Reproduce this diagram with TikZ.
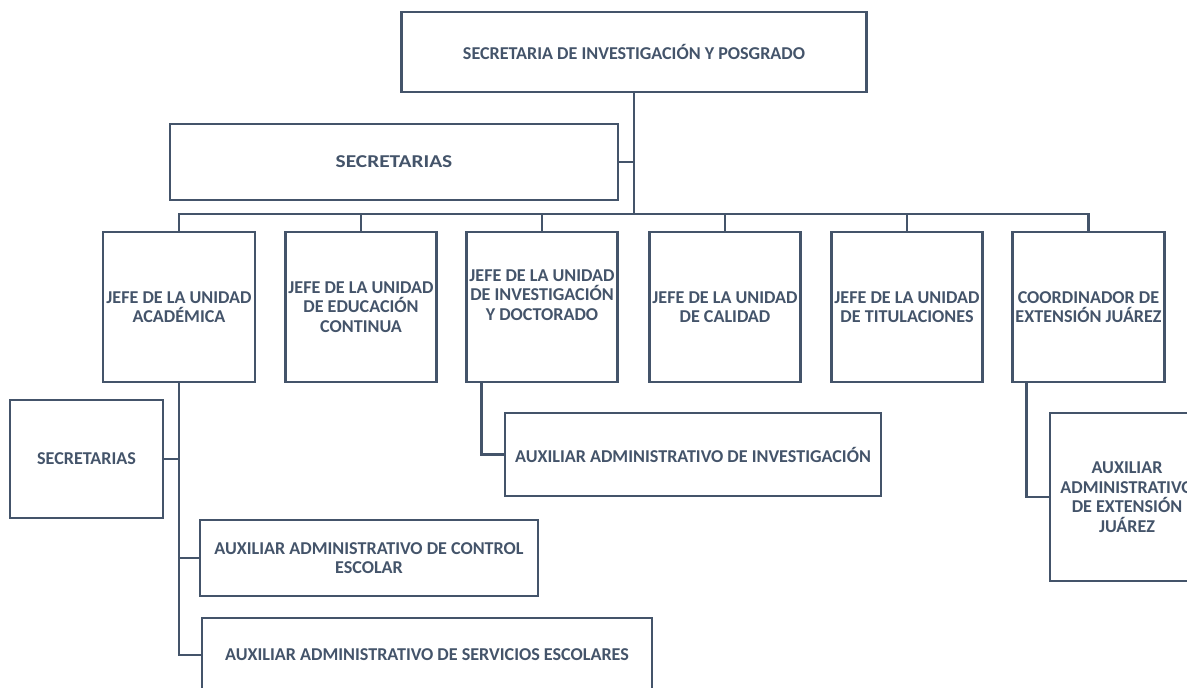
\documentclass[tikz,border=0pt]{standalone}
\usepackage{fontspec}
\setmainfont{Carlito}
\definecolor{ink}{HTML}{44546A}
\begin{document}
\begin{tikzpicture}[x=1pt,y=-1pt,
  box/.style={draw=ink, line width=2.2pt, rectangle, inner sep=1pt, align=center,
    text=ink, font=\fontsize{18.1}{19.5}\selectfont\bfseries},
  link/.style={draw=ink, line width=2.2pt}]
\useasboundingbox (0,0) rectangle (1187,688);
\clip (0,0) rectangle (1187,688);
% top level
\node[box, minimum width=465, minimum height=80] (T) at (634,52) {SECRETARIA DE INVESTIGACIÓN Y POSGRADO};
\node[box, minimum width=448, minimum height=76] (S1) at (394,162) {\scalebox{1.18}[1]{SECRETARIAS}};
\coordinate (bus) at (634,214);
% second level
\node[box, minimum width=152, minimum height=150] (J1) at (179,307) {JEFE DE LA UNIDAD\\ACADÉMICA};
\node[box, minimum width=151, minimum height=150] (J2) at (361,307) {JEFE DE LA UNIDAD\\DE EDUCACIÓN\\CONTINUA};
\node[box, minimum width=151, minimum height=150] (J3) at (542,307) {JEFE DE LA UNIDAD\\DE INVESTIGACIÓN\\Y DOCTORADO\\[5pt]\mbox{}};
\node[box, minimum width=151, minimum height=150] (J4) at (725,307) {JEFE DE LA UNIDAD\\DE CALIDAD};
\node[box, minimum width=151, minimum height=150] (J5) at (907,307) {JEFE DE LA UNIDAD\\DE TITULACIONES};
\node[box, minimum width=152, minimum height=150] (J6) at (1088.5,307) {COORDINADOR DE\\EXTENSIÓN JUÁREZ};
% third level
\node[box, minimum width=153, minimum height=118] (S2) at (86.5,459) {SECRETARIAS};
\node[box, minimum width=338, minimum height=76] (A1) at (369,558) {AUXILIAR ADMINISTRATIVO DE CONTROL\\ESCOLAR};
\node[box, minimum width=450, minimum height=74] (A2) at (427,655) {AUXILIAR ADMINISTRATIVO DE SERVICIOS ESCOLARES};
\node[box, minimum width=376, minimum height=83] (AI) at (693,454.5) {AUXILIAR ADMINISTRATIVO DE INVESTIGACIÓN};
\node[box, minimum width=154, minimum height=168] (AE) at (1127,497) {AUXILIAR\\ADMINISTRATIVO\\DE EXTENSIÓN\\JUÁREZ};
% connectors
\draw[link] (T.south) -- (bus);
\draw[link] (S1.east) -- (S1.east -| bus);
\foreach \j in {J1,J2,J3,J4,J5,J6} { \draw[link] (bus) -| (\j.north); }
\draw[link] (J1.south) |- (A2.west);
\draw[link] (J1.south) |- (A1.west);
\draw[link] (S2.east) -- (S2.east -| J1.south);
\draw[link] ([xshift=16pt]J3.south west) |- (AI.west);
\draw[link] ([xshift=15pt]J6.south west) |- (AE.west);
\end{tikzpicture}
\end{document}
